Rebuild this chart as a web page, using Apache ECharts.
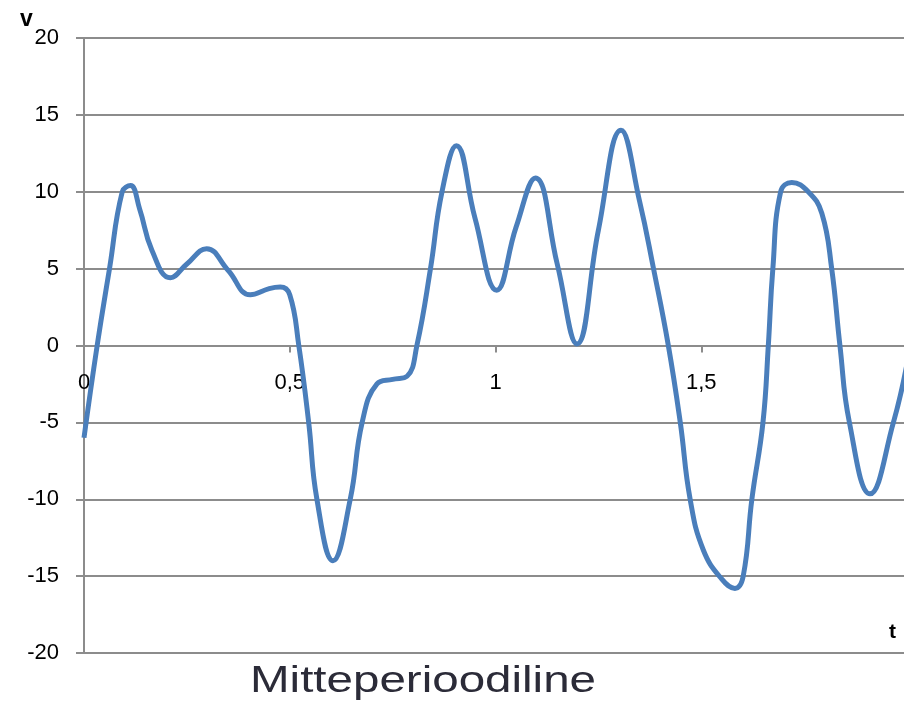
<!DOCTYPE html>
<html>
<head>
<meta charset="utf-8">
<script src="https://cdn.jsdelivr.net/npm/echarts@6/dist/echarts.min.js"></script>
<style>html,body{margin:0;padding:0;background:#fff}#c{width:904px;height:715px}</style>
</head>
<body>
<div id="c"></div>
<script>
// time values (t)
const tValues = [0, 0.032, 0.062, 0.093, 0.113, 0.135, 0.165, 0.21, 0.25, 0.298, 0.35, 0.404, 0.45, 0.477, 0.5,
  0.522, 0.546, 0.566, 0.605, 0.647, 0.676, 0.712, 0.75, 0.785, 0.809, 0.842, 0.87, 0.905, 0.95, 1.003, 1.05, 1.097,
  1.15, 1.198, 1.25, 1.305, 1.35, 1.384, 1.42, 1.449, 1.473, 1.505, 1.55, 1.582, 1.602, 1.623, 1.65, 1.663, 1.674,
  1.693, 1.72, 1.76, 1.793, 1.817, 1.837, 1.86, 1.91, 1.967, 2.0];
// signal values (v)
const vValues = [-6.0, 0, 5, 10, 10.4, 8.9, 6.2, 4.4, 5.3, 6.3, 4.9, 3.3, 3.7, 3.8, 3.3,
  0, -5, -10, -14, -10, -5, -2.5, -2.2, -2.0, 0, 5, 10, 13.0, 8.3, 3.6, 7.7, 10.9,
  5.3, 0.1, 7.5, 14.0, 9.4, 5, 0, -5, -10, -13.3, -15.2, -15.8, -15.0, -10, -5, 0, 5,
  10, 10.6, 10.0, 8.6, 5, 0, -5, -9.65, -5, -1.2];
const yTicks = [-20, -15, -10, -5, 0, 5, 10, 15, 20];
const xTicks = [0, 0.5, 1, 1.5, 2];
const titleText = 'Mitteperioodiline';

const data = tValues.map((t, i) => [t, vValues[i]]);
const gray = '#8c8c8c';
const yMin = yTicks[0], yMax = yTicks[yTicks.length - 1];
const gridTop = 38, gridH = 615;
// shift x axis from bottom up to v = 0
const zeroOffset = -gridH * (0 - yMin) / (yMax - yMin);
const chart = echarts.init(document.getElementById('c'), null, {renderer: 'canvas'});
chart.setOption({
  animation: false,
  grid: {left: 84, top: gridTop, width: 823, height: gridH, containLabel: false, outerBoundsMode: 'none'},
  xAxis: {
    type: 'value', min: xTicks[0], max: xTicks[xTicks.length - 1], interval: 0.5,
    offset: zeroOffset,
    axisLine: {show: true, onZero: false, lineStyle: {color: gray, width: 2}},
    axisTick: {show: true, length: 7, inside: false, lineStyle: {color: gray, width: 2}},
    splitLine: {show: false},
    axisLabel: {show: true, margin: 26, showMinLabel: true, showMaxLabel: true, color: '#000',
      fontFamily: 'Liberation Sans', fontSize: 22, hideOverlap: false,
      formatter: v => String(v).replace('.', ',')}
  },
  yAxis: {
    type: 'value', min: yMin, max: yMax, interval: 5,
    axisLine: {show: true, onZero: false, lineStyle: {color: gray, width: 2}},
    axisTick: {show: true, length: 8, lineStyle: {color: gray, width: 2}},
    splitLine: {show: true, lineStyle: {color: gray, width: 2}},
    axisLabel: {margin: 25, color: '#000', fontFamily: 'Liberation Sans', fontSize: 22}
  },
  graphic: [
    {type: 'text', left: 20, top: 8, style: {text: 'v', font: 'bold 23px Liberation Sans', fill: '#000'}},
    {type: 'text', left: 889, top: 622, style: {text: 't', font: 'bold 21px Liberation Sans', fill: '#000'}},
    {type: 'text', x: 250, y: 664, scaleX: 1.32, scaleY: 1,
      style: {text: titleText, font: '36px Liberation Sans', fill: '#2b2b38'}}
  ],
  series: [{
    type: 'line', data: data, smooth: 0.45, showSymbol: false, clip: true,
    lineStyle: {color: '#4a7ebb', width: 5}
  }]
});
</script>
</body>
</html>
